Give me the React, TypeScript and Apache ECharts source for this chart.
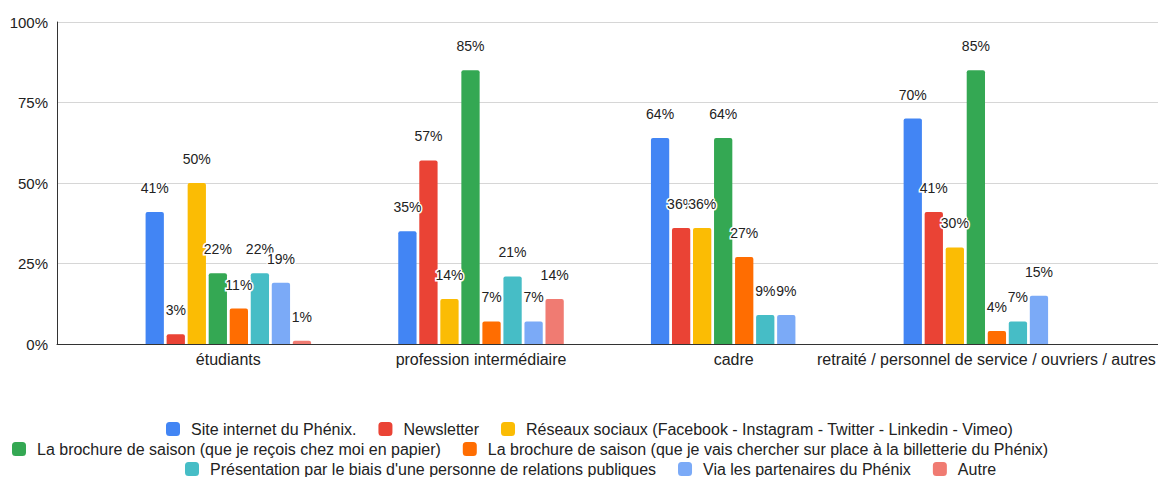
import React, { useEffect, useRef } from "react";
import * as echarts from "echarts";

const categories = [
  "étudiants",
  "profession intermédiaire",
  "cadre",
  "retraité / personnel de service / ouvriers / autres",
];

const seriesNames = [
  "Site internet du Phénix.",
  "Newsletter",
  "Réseaux sociaux (Facebook - Instagram - Twitter - Linkedin - Vimeo)",
  "La brochure de saison (que je reçois chez moi en papier)",
  "La brochure de saison (que je vais chercher sur place à la billetterie du Phénix)",
  "Présentation par le biais d'une personne de relations publiques",
  "Via les partenaires du Phénix",
  "Autre",
];

const siteInternet = [41, 35, 64, 70];
const newsletter = [3, 57, 36, 41];
const reseauxSociaux = [50, 14, 36, 30];
const brochureChezMoi = [22, 85, 64, 85];
const brochureBilletterie = [11, 7, 27, 4];
const relationsPubliques = [22, 21, 9, 7];
const partenaires = [19, 7, 9, 15];
const autre: (number | null)[] = [1, 14, null, null];

const seriesValues = [
  siteInternet,
  newsletter,
  reseauxSociaux,
  brochureChezMoi,
  brochureBilletterie,
  relationsPubliques,
  partenaires,
  autre,
];

const colors = [
  "#4285F4",
  "#EA4335",
  "#FBBC04",
  "#34A853",
  "#FF6D01",
  "#46BDC6",
  "#7BAAF7",
  "#F07B72",
];

const yTicks = [0, 25, 50, 75, 100];

const FONT = "'Liberation Sans', Arial, Helvetica, sans-serif";

export default function App() {
  const ref = useRef<HTMLDivElement>(null);

  useEffect(() => {
    if (!ref.current) return;
    const chart = echarts.init(ref.current, null, { renderer: "svg" });

    const legendBase = {
      orient: "horizontal" as const,
      padding: 0,
      itemWidth: 14,
      itemHeight: 14,
      itemGap: 22,
      icon: "roundRect",
      textStyle: {
        fontSize: 16,
        color: "#222",
        fontFamily: FONT,
        padding: [0, 0, 0, 6],
      },
    };

    const option = {
      animation: false,
      textStyle: { fontFamily: FONT },
      color: colors,
      legend: [
        { ...legendBase, left: 166, top: 421, data: seriesNames.slice(0, 3) },
        { ...legendBase, left: 12, top: 441, data: seriesNames.slice(3, 5) },
        { ...legendBase, left: 185, top: 461, data: seriesNames.slice(5, 8) },
      ],
      grid: [
        { left: 57, top: 22, width: 1101, height: 322 },
        { left: 102, top: 22, width: 1017, height: 322 },
      ],
      xAxis: [
        {
          type: "category",
          gridIndex: 0,
          data: [""],
          axisLine: { show: true, lineStyle: { color: "#333", width: 1 } },
          axisTick: { show: false },
          axisLabel: { show: false },
        },
        {
          type: "category",
          gridIndex: 1,
          data: categories,
          axisLine: { show: false },
          axisTick: { show: false },
          axisLabel: {
            interval: 0,
            fontSize: 16,
            color: "#222",
            margin: 7,
            fontFamily: FONT,
          },
        },
      ],
      yAxis: [
        {
          type: "value",
          gridIndex: 0,
          min: yTicks[0],
          max: yTicks[yTicks.length - 1],
          interval: 25,
          axisLine: { show: true, lineStyle: { color: "#333", width: 1 } },
          axisTick: { show: false },
          axisLabel: {
            formatter: "{value}%",
            fontSize: 15,
            color: "#222",
            margin: 9,
            fontFamily: FONT,
          },
          splitLine: { show: true, lineStyle: { color: "#d6d6d6", width: 1 } },
        },
        {
          type: "value",
          gridIndex: 1,
          min: 0,
          max: 100,
          show: false,
          splitLine: { show: false },
        },
      ],
      series: seriesNames.map((name, i) => ({
        name,
        type: "bar",
        xAxisIndex: 1,
        yAxisIndex: 1,
        data: seriesValues[i],
        barCategoryGap: "34.5%",
        barGap: "15%",
        itemStyle: { color: colors[i], borderRadius: [2, 2, 0, 0] },
        label: {
          show: true,
          position: "top",
          distance: 17,
          formatter: "{c}%",
          fontSize: 14,
          color: "#222",
          fontFamily: FONT,
          textBorderColor: "#fff",
          textBorderWidth: 3,
        },
      })),
    };

    chart.setOption(option as any);
    return () => chart.dispose();
  }, []);

  return (
    <div
      ref={ref}
      style={{
        position: "absolute",
        left: 0,
        top: 0,
        width: 1158,
        height: 477,
        background: "#fff",
      }}
    />
  );
}
